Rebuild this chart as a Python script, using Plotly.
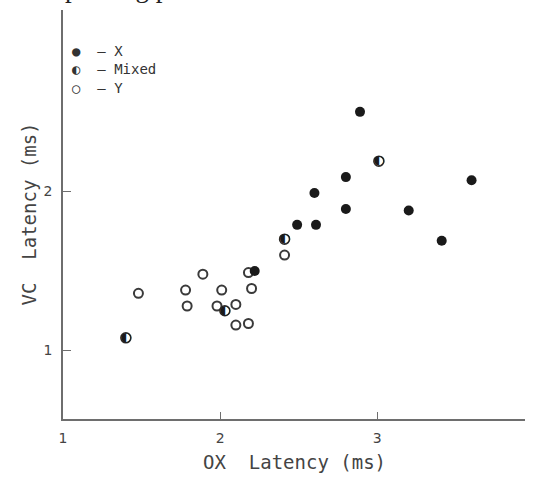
import plotly.graph_objects as go

# X cells (filled)
x_ox = [2.22, 2.49, 2.60, 2.61, 2.80, 2.80, 2.89, 3.20, 3.41, 3.60]
x_vc = [1.50, 1.79, 1.99, 1.79, 2.09, 1.89, 2.50, 1.88, 1.69, 2.07]
# Mixed cells (half filled)
m_ox = [1.40, 2.03, 2.41, 3.01]
m_vc = [1.08, 1.25, 1.70, 2.19]
# Y cells (open)
y_ox = [1.48, 1.78, 1.79, 1.89, 1.98, 2.01, 2.10, 2.10, 2.18, 2.18, 2.20, 2.41]
y_vc = [1.36, 1.38, 1.28, 1.48, 1.28, 1.38, 1.29, 1.16, 1.17, 1.49, 1.39, 1.60]

x_ticks = [1, 2, 3]
y_ticks = [1, 2]

AX = "#6e6e6e"
TXT = "#444444"
FONT = "DejaVu Sans"
MONO = "DejaVu Sans Mono"

fig = go.Figure()
fig.add_trace(go.Scatter(x=y_ox, y=y_vc, mode="markers",
                         marker=dict(symbol="circle-open", size=9, color="#3a3a3a",
                                     line=dict(width=2, color="#3a3a3a")),
                         showlegend=False))
fig.add_trace(go.Scatter(x=x_ox, y=x_vc, mode="markers",
                         marker=dict(symbol="circle", size=10, color="#1a1a1a",
                                     line=dict(width=0)),
                         showlegend=False))
fig.add_trace(go.Scatter(x=m_ox, y=m_vc, mode="markers",
                         marker=dict(symbol="circle", size=10, color="white",
                                     line=dict(width=1.5, color="#2a2a2a")),
                         showlegend=False))
fig.add_trace(go.Scatter(x=m_ox, y=m_vc, mode="text", text=["◐"] * len(m_ox),
                         textfont=dict(family=FONT, size=13, color="#1a1a1a"),
                         textposition="middle center",
                         showlegend=False))

fig.update_xaxes(range=[1, 3.94], showline=True, linecolor=AX, linewidth=1.5,
                 tickvals=x_ticks, ticktext=[str(v) for v in x_ticks],
                 ticks="inside", ticklen=7, tickcolor=AX, tickwidth=1.2,
                 showgrid=False, zeroline=False, automargin=False,
                 ticklabelstandoff=5,
                 tickfont=dict(family=FONT, size=14, color=TXT))
fig.update_yaxes(range=[0.57, 3.14], showline=True, linecolor=AX, linewidth=1.5,
                 tickvals=y_ticks, ticktext=[str(v) for v in y_ticks],
                 ticks="inside", ticklen=8, tickcolor=AX, tickwidth=1.2,
                 showgrid=False, zeroline=False, automargin=False,
                 ticklabelstandoff=6,
                 tickfont=dict(family=FONT, size=14, color=TXT))

# axis titles
fig.add_annotation(text="OX  Latency (ms)", xref="paper", yref="paper", x=0.5, y=0,
                   yshift=-43, xanchor="center", yanchor="middle", showarrow=False,
                   font=dict(family=MONO, size=19, color=TXT))
fig.add_annotation(text="VC  Latency (ms)", xref="paper", yref="paper", x=0, y=0.5,
                   xshift=-35, xanchor="center", yanchor="middle", textangle=-90,
                   showarrow=False, font=dict(family=MONO, size=19, color=TXT))

legend_items = ["●  – X", "◐  – Mixed", "○  – Y"]
for i, t in enumerate(legend_items):
    fig.add_annotation(text=t, xref="paper", yref="paper", x=0.015, y=0.9 - i * 0.045,
                       xanchor="left", yanchor="middle", showarrow=False,
                       font=dict(family=MONO, size=14, color="#333333"))

fig.add_annotation(text="plotting p", xref="paper", yref="paper", x=0.0, y=1.0,
                   yshift=5, xanchor="left", yanchor="bottom", showarrow=False,
                   font=dict(family="Liberation Serif", size=27, color="#222222"))

fig.update_layout(width=542, height=477, margin=dict(l=63, r=17, t=10, b=58),
                  plot_bgcolor="white", paper_bgcolor="white")

fig.write_html("out.html", config={"displayModeBar": False},
               post_script="document.body.style.margin='0';")
